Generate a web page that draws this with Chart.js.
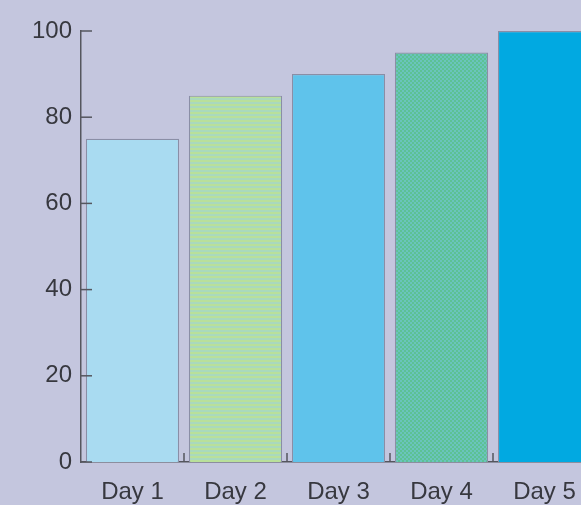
<!DOCTYPE html>
<html>
<head>
<meta charset="utf-8">
<script src="https://cdn.jsdelivr.net/npm/chart.js@4/dist/chart.umd.min.js"></script>
<style>
  html, body { margin: 0; padding: 0; overflow: hidden; background: #c4c6de; }
  #wrap { width: 596px; height: 505px; }
</style>
</head>
<body>
<div id="wrap"><canvas id="c" width="596" height="505"></canvas></div>
<script>
const categories = ["Day 1", "Day 2", "Day 3", "Day 4", "Day 5"];
const values = [75, 85, 90, 95, 100];
const yTicks = [0, 20, 40, 60, 80, 100];

const BG = "#c4c6de";
const AXIS = "#55565e";
const TEXT = "#37383f";

function stripePattern(c1, c2, dots) {
  const p = document.createElement("canvas");
  p.width = 4; p.height = 4;
  const g = p.getContext("2d");
  g.fillStyle = c1; g.fillRect(0, 0, 4, 4);
  g.fillStyle = c2;
  if (dots) { g.fillRect(0, 0, 2, 2); g.fillRect(2, 2, 2, 2); }
  else { g.fillRect(0, 2, 4, 2); }
  return g.createPattern(p, "repeat");
}
const ctx = document.getElementById("c").getContext("2d");
const fills = [
  "#a9dbf1",
  stripePattern("#b9e09a", "#a9d9bd", false),
  "#5fc3eb",
  stripePattern("#5cc195", "#6ac4bc", true),
  "#01a9e1"
];

const bgPlugin = {
  id: "bg",
  beforeDraw(chart) {
    const c = chart.ctx;
    c.save(); c.fillStyle = BG; c.fillRect(0, 0, chart.width, chart.height); c.restore();
  }
};
const tickPlugin = {
  id: "inTicks",
  afterDraw(chart) {
    const c = chart.ctx, x = chart.scales.x, y = chart.scales.y;
    const area = chart.chartArea;
    c.save();
    c.strokeStyle = AXIS; c.lineWidth = 1.5;
    yTicks.forEach(v => {
      const py = y.getPixelForValue(v);
      c.beginPath(); c.moveTo(area.left, py); c.lineTo(area.left + 11, py); c.stroke();
    });
    for (let i = 1; i < categories.length; i++) {
      const px = (x.getPixelForValue(i - 1) + x.getPixelForValue(i)) / 2;
      c.beginPath(); c.moveTo(px, area.bottom); c.lineTo(px, area.bottom - 9); c.stroke();
    }
    c.restore();
  }
};

new Chart(ctx, {
  type: "bar",
  data: {
    labels: categories,
    datasets: [{
      data: values,
      backgroundColor: fills,
      borderColor: "#8a8ea6",
      borderWidth: 1.2,
      barPercentage: 0.905,
      categoryPercentage: 1.0
    }]
  },
  options: {
    responsive: false,
    animation: false,
    layout: { padding: { top: 31, right: 0, left: 0, bottom: 0 } },
    plugins: { legend: { display: false }, tooltip: { enabled: false } },
    scales: {
      x: {
        grid: { display: false, drawTicks: false },
        border: { display: true, color: AXIS, width: 1.5 },
        ticks: { color: TEXT, font: { family: "Liberation Sans, Arial", size: 24 }, padding: 16, maxRotation: 0 },
        afterFit(s) { s.height = 43; }
      },
      y: {
        min: 0, max: 100,
        grid: { display: false, drawTicks: false },
        border: { display: true, color: AXIS, width: 1.5 },
        ticks: { stepSize: 20, color: TEXT, font: { family: "Liberation Sans, Arial", size: 24 }, padding: 9 },
        afterFit(s) { s.width = 81; }
      }
    }
  },
  plugins: [bgPlugin, tickPlugin]
});
</script>
</body>
</html>
